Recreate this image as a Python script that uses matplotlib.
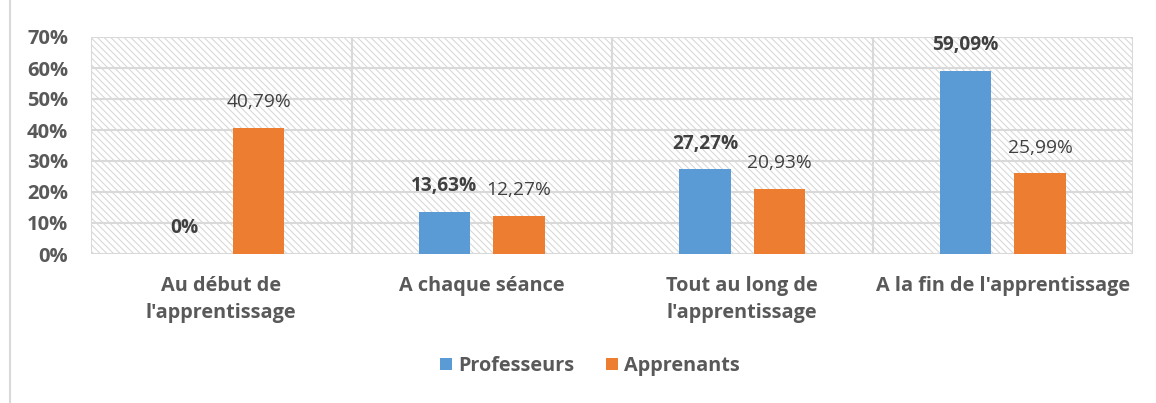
import matplotlib
matplotlib.use("Agg")
import matplotlib.pyplot as plt
import numpy as np
from matplotlib.patches import Rectangle

categories = ["Au début de\nl'apprentissage", "A chaque séance",
              "Tout au long de\nl'apprentissage", "A la fin de l'apprentissage"]
professeurs = [0.0, 13.63, 27.27, 59.09]
apprenants = [40.79, 12.27, 20.93, 25.99]
prof_labels = ["0%", "13,63%", "27,27%", "59,09%"]
appr_labels = ["40,79%", "12,27%", "20,93%", "25,99%"]
yticks = [0, 10, 20, 30, 40, 50, 60, 70]

plt.rcParams['font.family'] = ['Open Sans', 'DejaVu Sans']
plt.rcParams['hatch.color'] = '#dedede'
plt.rcParams['hatch.linewidth'] = 0.8

BLUE = '#5b9bd5'
ORANGE = '#ed7d31'
GRID = '#d9d9d9'
TXT = '#595959'
DTXT = '#404040'

fig = plt.figure(figsize=(11.56, 4.03), dpi=100)
ax = fig.add_axes([91/1156, 1-254/403, (1133-91)/1156, (254-37)/403])

x = np.arange(len(categories))
w = 0.196
off = 0.143

ax.set_xlim(-0.5, len(categories) - 0.5)
ax.set_ylim(0, 70)

# hatched background
ax.add_patch(Rectangle((0, 0), 1, 1, transform=ax.transAxes, facecolor='white',
                       edgecolor=GRID, hatch='\\\\\\\\\\', lw=0, zorder=0))

for yv in yticks:
    ax.axhline(yv, color=GRID, lw=1.5, zorder=1)
for xv in np.arange(-0.5, len(categories), 1.0):
    ax.axvline(xv, color=GRID, lw=1.5, zorder=1)

b1 = ax.bar(x - off, professeurs, w, color=BLUE, zorder=3, label='Professeurs')
b2 = ax.bar(x + off, apprenants, w, color=ORANGE, zorder=3, label='Apprenants')

for xi, v, lab in zip(x, professeurs, prof_labels):
    ax.annotate(lab, (xi - off, v), xytext=(0, 18.5), textcoords='offset points',
                ha='center', va='center', fontsize=13.8, fontweight='bold', color=DTXT, zorder=5)
for xi, v, lab in zip(x, apprenants, appr_labels):
    ax.annotate(lab, (xi + off, v), xytext=(0, 18.5), textcoords='offset points',
                ha='center', va='center', fontsize=13.8, color=DTXT, zorder=5)

for s in ax.spines.values():
    s.set_visible(False)

ax.set_yticks(yticks)
ax.set_yticklabels([f"{v}%" for v in yticks], fontsize=14.5, fontweight='bold', color=TXT)
ax.set_xticks(x)
ax.set_xticklabels(categories, fontsize=14.3, fontweight='bold', color=TXT, linespacing=1.45)
ax.tick_params(axis='both', length=0)
ax.tick_params(axis='y', pad=16.5)
ax.tick_params(axis='x', pad=16)
for t in ax.get_xticklabels():
    t.set_verticalalignment('top')

leg = fig.legend(handles=[b1, b2], loc='center', bbox_to_anchor=(590/1156, 1-366/403),
                 ncol=2, frameon=False, fontsize=14.3, handlelength=0.6, handleheight=0.6,
                 handletextpad=0.3, columnspacing=1.6)
for t in leg.get_texts():
    t.set_fontweight('bold')
    t.set_color(TXT)

# chart border fragment on the left
fig.add_artist(plt.Line2D([10/1156, 10/1156], [0, 1], transform=fig.transFigure,
                          color='#d9d9d9', lw=1.5))

fig.savefig('out.png', dpi=100, facecolor='white')
